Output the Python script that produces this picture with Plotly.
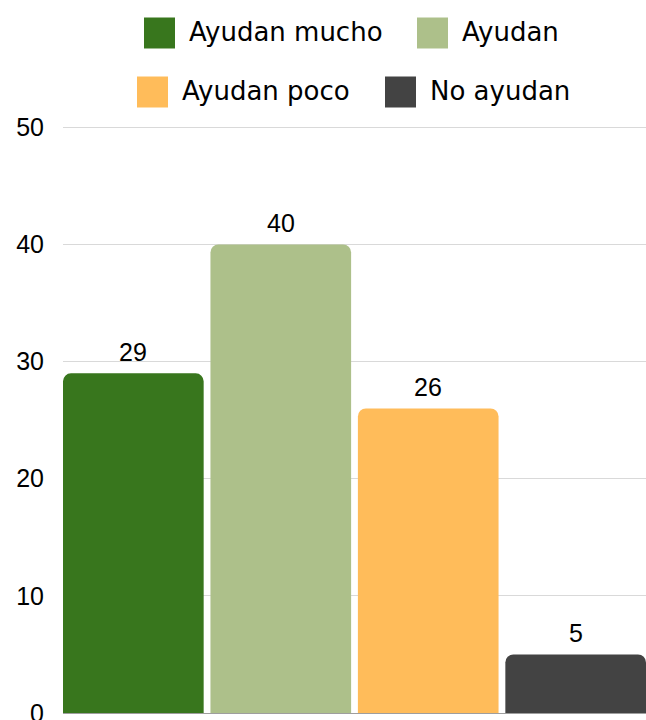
import plotly.graph_objects as go

categories = ["Ayudan mucho", "Ayudan", "Ayudan poco", "No ayudan"]
values = [29, 40, 26, 5]
colors = ["#38761d", "#adc08a", "#ffbc5a", "#434343"]
y_ticks = [0, 10, 20, 30, 40, 50]

W, H = 646, 720
ML, MR, MT, MB = 63, 0, 125, 7
BARGAP = 0.046
Y_MAX = 50.2

NUM_FONT = "Liberation Sans, Arial, sans-serif"
LEG_FONT = "DejaVu Sans, sans-serif"

fig = go.Figure()
for name, v, c in zip(categories, values, colors):
    fig.add_trace(go.Bar(
        x=[name], y=[v], name=name, marker=dict(color=c, line=dict(width=0)),
        showlegend=False, hoverinfo="x+y",
    ))
    fig.add_annotation(
        x=name, y=v, text=str(v), showarrow=False, yanchor="bottom",
        yshift=5, font=dict(family=NUM_FONT, size=25, color="#000000"),
    )

# custom legend (large square swatches), two centered rows
plot_w = W - ML - MR
plot_h = H - MT - MB
def px_to_paper_x(px):
    return (px - ML) / plot_w
def px_to_paper_y(py):
    return (H - MB - py) / plot_h

legend_rows = [[0, 1], [2, 3]]
row_centers_y = [33, 92]
swatch_left = {0: 144, 1: 417, 2: 137, 3: 385}
SW = 31
for row, cy in zip(legend_rows, row_centers_y):
    for i in row:
        x0 = swatch_left[i]
        fig.add_shape(
            type="rect", xref="paper", yref="paper",
            x0=px_to_paper_x(x0), x1=px_to_paper_x(x0 + SW),
            y0=px_to_paper_y(cy + SW / 2), y1=px_to_paper_y(cy - SW / 2),
            fillcolor=colors[i], line=dict(width=0), layer="above",
        )
        fig.add_annotation(
            xref="paper", yref="paper", x=px_to_paper_x(x0 + SW + 12),
            y=px_to_paper_y(cy - 1), text=categories[i], showarrow=False,
            xanchor="left", yanchor="middle",
            font=dict(family=LEG_FONT, size=26, color="#000000"),
        )

fig.update_layout(
    width=W, height=H,
    margin=dict(l=ML, r=MR, t=MT, b=MB, pad=0, autoexpand=False),
    paper_bgcolor="white", plot_bgcolor="white",
    barmode="overlay", bargap=BARGAP, barcornerradius=8,
    showlegend=False,
    font=dict(family=NUM_FONT, size=25, color="#000000"),
)
fig.update_xaxes(
    type="category", categoryorder="array", categoryarray=categories,
    range=[-0.5 + BARGAP / 2, 3.5 - BARGAP / 2], automargin=False,
    showticklabels=False, showgrid=False, zeroline=False,
    showline=True, linecolor="#9e9e9e", linewidth=1, ticks="",
)
fig.update_yaxes(
    range=[0, Y_MAX], tickvals=y_ticks, ticktext=[str(t) for t in y_ticks],
    automargin=False,
    showgrid=True, gridcolor="#d9d9d9", gridwidth=1, zeroline=False,
    ticks="", ticklabelstandoff=18, ticklabeloverflow="allow",
    tickfont=dict(family=NUM_FONT, size=25, color="#000000"),
)

fig.write_html("out.html")
